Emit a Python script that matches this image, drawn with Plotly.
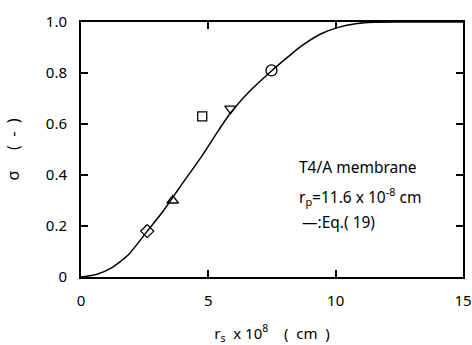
import plotly.graph_objects as go

# Eq.(19) curve, sigma vs solute radius r_s (x 1e-8 cm)
curve_rs = [0.0, 0.6, 1.2, 1.85, 2.57, 3.2, 3.9, 4.75, 5.4, 5.87, 6.67, 7.48, 8.15, 8.62, 9.41, 10.07, 10.85, 11.5, 12.5, 15.0]
curve_sigma = [0.0, 0.01, 0.036, 0.086, 0.176, 0.255, 0.355, 0.475, 0.575, 0.643, 0.733, 0.808, 0.865, 0.903, 0.953, 0.978, 0.994, 0.999, 1.0, 1.0]

# measured points, one marker per solute
solute_symbols = ["diamond-open", "triangle-up-open", "square-open", "triangle-down-open", "circle-open"]
solute_rs = [2.6, 3.6, 4.76, 5.87, 7.48]
solute_sigma = [0.18, 0.30, 0.63, 0.66, 0.81]
solute_sizes = [10, 10, 9, 10, 11]

x_ticks = [0, 5, 10, 15]
x_tick_text = ["0", "5", "10", "15"]
y_ticks = [0, 0.2, 0.4, 0.6, 0.8, 1.0]
y_tick_text = ["0", "0.2", "0.4", "0.6", "0.8", "1.0"]

FONT = "Noto Sans"

fig = go.Figure()
fig.add_trace(go.Scatter(
    x=curve_rs, y=curve_sigma, mode="lines",
    line=dict(color="black", width=1.5, shape="spline", smoothing=0.6),
    showlegend=False, hoverinfo="skip",
))
for sym, xv, yv, sz in zip(solute_symbols, solute_rs, solute_sigma, solute_sizes):
    fig.add_trace(go.Scatter(
        x=[xv], y=[yv], mode="markers",
        marker=dict(symbol=sym, size=sz, color="black", line=dict(color="black", width=1.3)),
        showlegend=False,
    ))

axis_common = dict(
    showgrid=False, zeroline=False, showline=True, linecolor="black", linewidth=2,
    mirror="ticks", ticks="inside", ticklen=7, tickwidth=1.5, tickcolor="black",
    tickfont=dict(family=FONT, size=15, color="black"), automargin=False,
)

fig.update_xaxes(
    range=[0, 15], tickvals=x_ticks, ticktext=x_tick_text,
    ticklabelstandoff=9,
    title=dict(text="r<sub>s</sub>  x 10<sup>8</sup>    (  cm  )",
               font=dict(family=FONT, size=15, color="black"), standoff=19),
    **axis_common,
)
fig.update_yaxes(
    range=[0, 1.0], tickvals=y_ticks, ticktext=y_tick_text,
    ticklabelstandoff=9,
    title=dict(text="σ     (  -  )", font=dict(family=FONT, size=16, color="black"), standoff=22),
    **axis_common,
)

ann_font = dict(family=FONT, size=15.5, color="black")
fig.add_annotation(x=8.5, y=0.43, xref="x", yref="y", text="T4/A membrane",
                   showarrow=False, xanchor="left", yanchor="middle", font=ann_font)
fig.add_annotation(x=8.5, y=0.315, xref="x", yref="y",
                   text="r<sub>p</sub>=11.6 x 10<sup>-8</sup> cm",
                   showarrow=False, xanchor="left", yanchor="middle", font=ann_font)
fig.add_annotation(x=8.6, y=0.215, xref="x", yref="y", text="—:Eq.( 19)",
                   showarrow=False, xanchor="left", yanchor="middle", font=ann_font)

fig.update_layout(
    width=472, height=345,
    margin=dict(l=81, r=9, t=22, b=68),
    paper_bgcolor="white", plot_bgcolor="white",
    font=dict(family=FONT, color="black"),
)

fig.write_html("out.html")
